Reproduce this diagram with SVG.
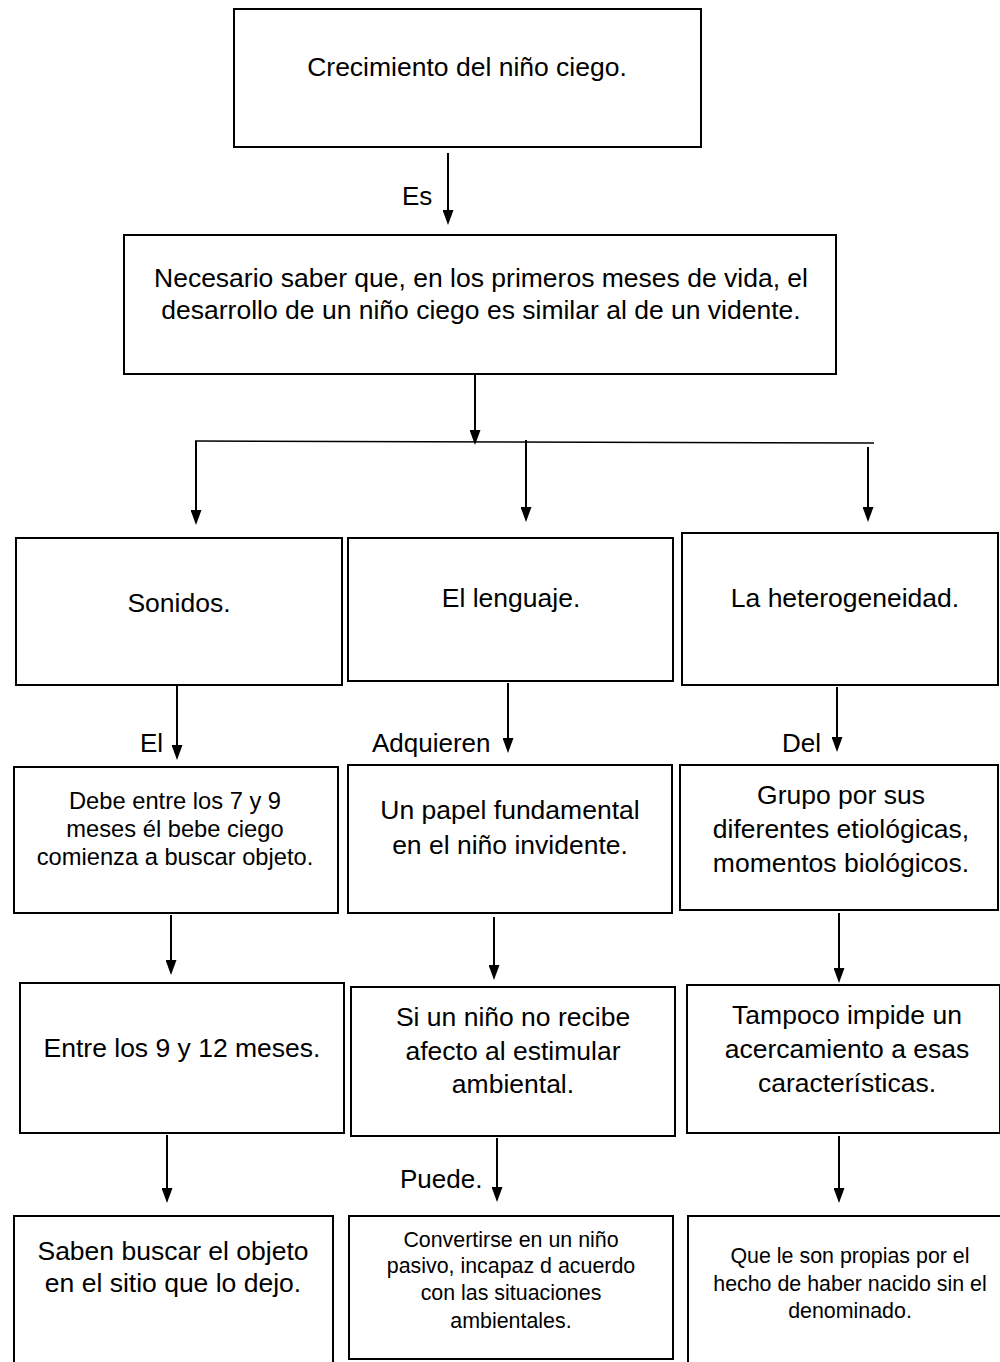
<svg xmlns="http://www.w3.org/2000/svg" width="1000" height="1362" viewBox="0 0 1000 1362">
<style>
.box{fill:#fff;stroke:#000;stroke-width:2}
.t{font-family:"Liberation Sans",Arial,sans-serif;font-size:26.5px;fill:#000;text-anchor:middle}
.s{font-size:23.7px}
.xs{font-size:21.4px}
.lbl{font-family:"Liberation Sans",Arial,sans-serif;font-size:26px;fill:#000}
.c{stroke:#000;stroke-width:2;fill:none}
.h{stroke:#000;stroke-width:1.5;fill:none}
</style>
<defs>
<marker id="ah" markerUnits="userSpaceOnUse" markerWidth="15" markerHeight="11" refX="7" refY="5.5" orient="auto">
<path d="M0,0 L15,5.5 L0,11 z" fill="#000"/>
</marker>
</defs>
<rect width="1000" height="1362" fill="#fff"/>
<g id="connectors">
<line class="c" x1="448" y1="153" x2="448" y2="217" marker-end="url(#ah)"/>
<line class="c" x1="475" y1="375" x2="475" y2="437" marker-end="url(#ah)"/>
<line class="h" x1="195" y1="441" x2="874" y2="443"/>
<line class="c" x1="196" y1="441" x2="196" y2="517" marker-end="url(#ah)"/>
<line class="c" x1="526" y1="440" x2="526" y2="514" marker-end="url(#ah)"/>
<line class="c" x1="868" y1="447" x2="868" y2="514" marker-end="url(#ah)"/>
<line class="c" x1="177" y1="686" x2="177" y2="752" marker-end="url(#ah)"/>
<line class="c" x1="508" y1="683" x2="508" y2="745" marker-end="url(#ah)"/>
<line class="c" x1="837" y1="687" x2="837" y2="744" marker-end="url(#ah)"/>
<line class="c" x1="171" y1="915" x2="171" y2="967" marker-end="url(#ah)"/>
<line class="c" x1="494" y1="917" x2="494" y2="972" marker-end="url(#ah)"/>
<line class="c" x1="839" y1="913" x2="839" y2="975" marker-end="url(#ah)"/>
<line class="c" x1="167" y1="1135" x2="167" y2="1195" marker-end="url(#ah)"/>
<line class="c" x1="497" y1="1138" x2="497" y2="1194" marker-end="url(#ah)"/>
<line class="c" x1="839" y1="1136" x2="839" y2="1195" marker-end="url(#ah)"/>
<text class="lbl" x="402" y="205">Es</text>
<text class="lbl" x="140" y="752">El</text>
<text class="lbl" x="372" y="752">Adquieren</text>
<text class="lbl" x="782" y="752">Del</text>
<text class="lbl" x="400" y="1188">Puede.</text>
</g>
<g id="n-top">
<rect class="box" x="234" y="9" width="467" height="138"/>
<text class="t" x="467" y="76">Crecimiento del niño ciego.</text>
</g>
<g id="n-necesario">
<rect class="box" x="124" y="235" width="712" height="139"/>
<text class="t" x="481" y="287">Necesario saber que, en los primeros meses de vida, el</text>
<text class="t" x="481" y="319">desarrollo de un niño ciego es similar al de un vidente.</text>
</g>
<g id="n-sonidos">
<rect class="box" x="16" y="538" width="326" height="147"/>
<text class="t" x="179" y="612">Sonidos.</text>
</g>
<g id="n-lenguaje">
<rect class="box" x="348" y="538" width="325" height="143"/>
<text class="t" x="511" y="607">El lenguaje.</text>
</g>
<g id="n-heterogeneidad">
<rect class="box" x="682" y="533" width="316" height="152"/>
<text class="t" x="845" y="607">La heterogeneidad.</text>
</g>
<g id="n-debe">
<rect class="box" x="14" y="767" width="324" height="146"/>
<text class="t s" x="175" y="809">Debe entre los 7 y 9</text>
<text class="t s" x="175" y="837">meses él bebe ciego</text>
<text class="t s" x="175" y="865">comienza a buscar objeto.</text>
</g>
<g id="n-papel">
<rect class="box" x="348" y="765" width="324" height="148"/>
<text class="t" x="510" y="819">Un papel fundamental</text>
<text class="t" x="510" y="854">en el niño invidente.</text>
</g>
<g id="n-grupo">
<rect class="box" x="680" y="765" width="318" height="145"/>
<text class="t" x="841" y="804">Grupo por sus</text>
<text class="t" x="841" y="838">diferentes etiológicas,</text>
<text class="t" x="841" y="872">momentos biológicos.</text>
</g>
<g id="n-entre">
<rect class="box" x="20" y="983" width="324" height="150"/>
<text class="t" x="182" y="1057">Entre los 9 y 12 meses.</text>
</g>
<g id="n-si">
<rect class="box" x="351" y="987" width="324" height="149"/>
<text class="t" x="513" y="1026">Si un niño no recibe</text>
<text class="t" x="513" y="1060">afecto al estimular</text>
<text class="t" x="513" y="1093">ambiental.</text>
</g>
<g id="n-tampoco">
<rect class="box" x="687" y="985" width="313" height="148"/>
<text class="t" x="847" y="1024">Tampoco impide un</text>
<text class="t" x="847" y="1058">acercamiento a esas</text>
<text class="t" x="847" y="1092">características.</text>
</g>
<g id="n-saben">
<rect class="box" x="14" y="1216" width="319" height="150"/>
<text class="t" x="173" y="1260">Saben buscar el objeto</text>
<text class="t" x="173" y="1292">en el sitio que lo dejo.</text>
</g>
<g id="n-convertirse">
<rect class="box" x="349" y="1216" width="324" height="143"/>
<text class="t xs" x="511" y="1247">Convertirse en un niño</text>
<text class="t xs" x="511" y="1273">pasivo, incapaz d acuerdo</text>
<text class="t xs" x="511" y="1300">con las situaciones</text>
<text class="t xs" x="511" y="1328">ambientales.</text>
</g>
<g id="n-que">
<rect class="box" x="688" y="1216" width="314" height="150"/>
<text class="t xs" x="850" y="1263">Que le son propias por el</text>
<text class="t xs" x="850" y="1291">hecho de haber nacido sin el</text>
<text class="t xs" x="850" y="1318">denominado.</text>
</g>
</svg>
